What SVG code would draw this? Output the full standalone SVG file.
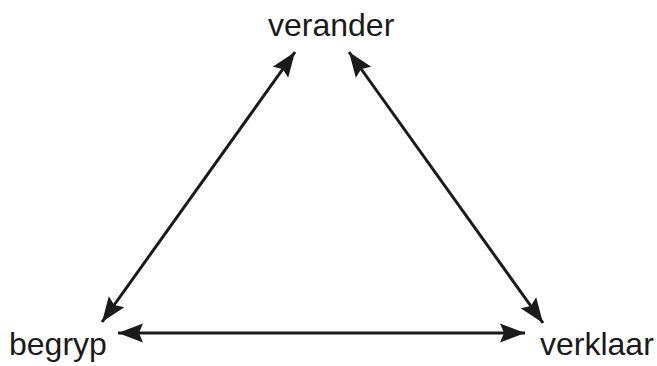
<svg xmlns="http://www.w3.org/2000/svg" width="657" height="366" viewBox="0 0 657 366">
<style>
.lbl{font-family:"Liberation Sans",Arial,sans-serif;font-size:32px;fill:#1a1a1a}
.edge{stroke:#1a1a1a;stroke-width:3;fill:none;marker-start:url(#ah);marker-end:url(#ah)}
</style>
<defs>
<marker id="ah" viewBox="-26 -10 28 20" refX="0" refY="0" markerWidth="28" markerHeight="20" markerUnits="userSpaceOnUse" orient="auto-start-reverse">
<path d="M0,0 L-25,-9.5 L-21,0 L-25,9.5 Z" fill="#1a1a1a"/>
</marker>
</defs>
<rect width="657" height="366" fill="#fff"/>
<g id="connectors">
<line class="edge" x1="102" y1="322" x2="295" y2="52"/>
<line class="edge" x1="349" y1="52" x2="543" y2="323"/>
<line class="edge" x1="118" y1="333" x2="525" y2="333"/>
</g>
<g id="verander"><text class="lbl" x="268" y="36">verander</text></g>
<g id="begryp"><text class="lbl" x="9" y="355">begryp</text></g>
<g id="verklaar"><text class="lbl" x="540" y="355">verklaar</text></g>
</svg>
